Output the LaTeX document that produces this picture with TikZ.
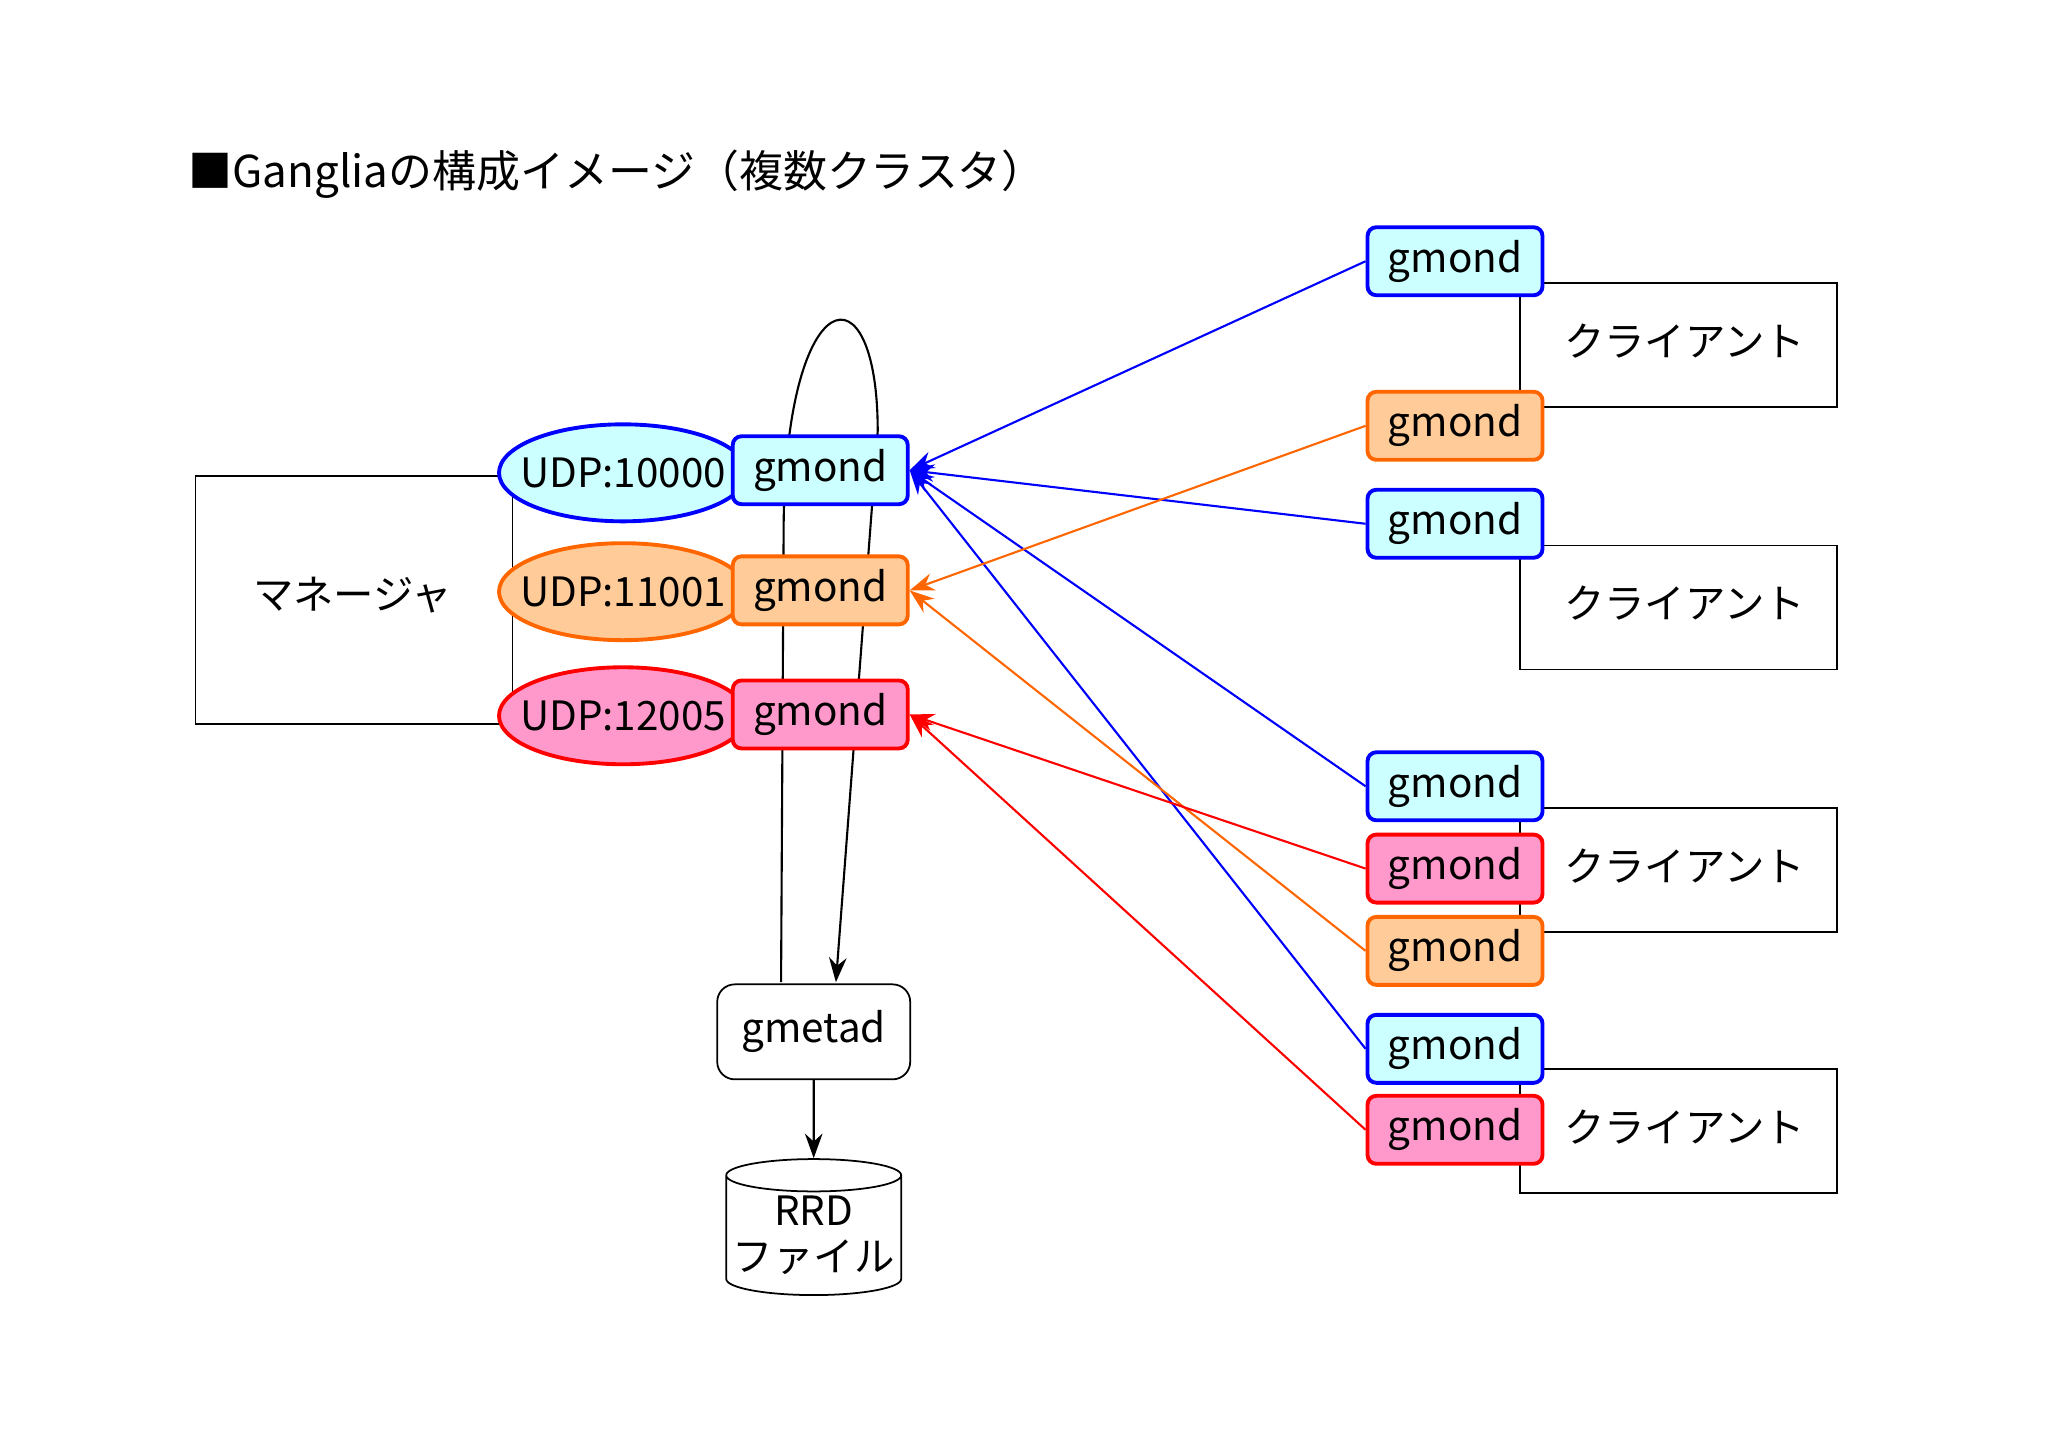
\documentclass[tikz,border=0pt]{standalone}
\usepackage{fontspec}
\setmainfont{Noto Sans CJK JP}
\usetikzlibrary{shapes.geometric,arrows.meta}
\definecolor{cyanfill}{HTML}{CCFFFF}
\definecolor{orfill}{HTML}{FFCC99}
\definecolor{orline}{HTML}{FF6600}
\definecolor{pkfill}{HTML}{FF99CC}
\begin{document}
\begin{tikzpicture}[x=0.013061cm,y=-0.013061cm,font=\fontsize{11.5}{13}\selectfont,
  gm/.style={draw,rounded corners=2.5pt,line width=1.1pt,minimum width=1.75cm,minimum height=0.68cm,inner sep=0pt},
  cy/.style={gm,draw=blue,fill=cyanfill},
  og/.style={gm,draw=orline,fill=orfill},
  pk/.style={gm,draw=red,fill=pkfill},
  udp/.style={ellipse,line width=1.1pt,minimum width=2.48cm,minimum height=0.97cm,inner xsep=-14pt,inner ysep=0pt},
  box/.style={draw,line width=0.5pt},
  lk/.style={line width=0.6pt,-{Stealth[length=7pt,width=5pt]}}]
\useasboundingbox (0,0) rectangle (1568,1110);
\node[anchor=west,font=\fontsize{12.5}{14}\selectfont] (title) at (135,133) {■Gangliaの構成イメージ（複数クラスタ）};
% manager
\node[box,minimum width=3.17cm,minimum height=2.48cm,anchor=north west] (mgr) at (149,364) {};
\node (mgrt) at (270,456) {マネージャ};
% loop
\coordinate (l1) at (598,752);
\coordinate (l2) at (640,752);
\draw[lk] (l1) -- (600,400) .. controls (602,215) and (672,200) .. (672,330) -- (l2);
\node[udp,draw=blue,fill=cyanfill] (u1) at (477,362) {UDP:10000};
\node[udp,draw=orline,fill=orfill] (u2) at (477,453) {UDP:11001};
\node[udp,draw=red,fill=pkfill] (u3) at (477,548) {UDP:12005};
\node[cy] (m1) at (628,360) {gmond};
\node[og] (m2) at (628,452) {gmond};
\node[pk] (m3) at (628,547) {gmond};
% gmetad & rrd
\node[box,rounded corners=5pt,minimum width=1.93cm,minimum height=0.95cm] (gmetad) at (623,790) {gmetad};
\node[cylinder,shape border rotate=90,draw,line width=0.5pt,aspect=0.2,minimum width=1.75cm,minimum height=1.36cm,align=center,inner sep=0pt] (rrd) at (623,946) {RRD\\ファイル};
\draw[lk] (gmetad.south) -- (rrd.north);
% clients
\foreach \n/\y in {1/216,2/417,3/618,4/818}{
  \node[box,minimum width=3.17cm,minimum height=1.24cm,anchor=north west] (c\n) at (1163,\y) {};
  \node[anchor=west] (ct\n) at (1188,\y+45) {クライアント};
}
\node[cy] (g1) at (1114,200) {gmond};
\node[og] (g2) at (1114,326) {gmond};
\node[cy] (g3) at (1114,401) {gmond};
\node[cy] (g4) at (1114,602) {gmond};
\node[pk] (g5) at (1114,665) {gmond};
\node[og] (g6) at (1114,728) {gmond};
\node[cy] (g7) at (1114,803) {gmond};
\node[pk] (g8) at (1114,865) {gmond};
\foreach \g in {g1,g3,g4,g7} \draw[lk,blue] (\g.west) -- (m1.east);
\foreach \g in {g2,g6} \draw[lk,orline] (\g.west) -- (m2.east);
\foreach \g in {g5,g8} \draw[lk,red] (\g.west) -- (m3.east);
\end{tikzpicture}
\end{document}
